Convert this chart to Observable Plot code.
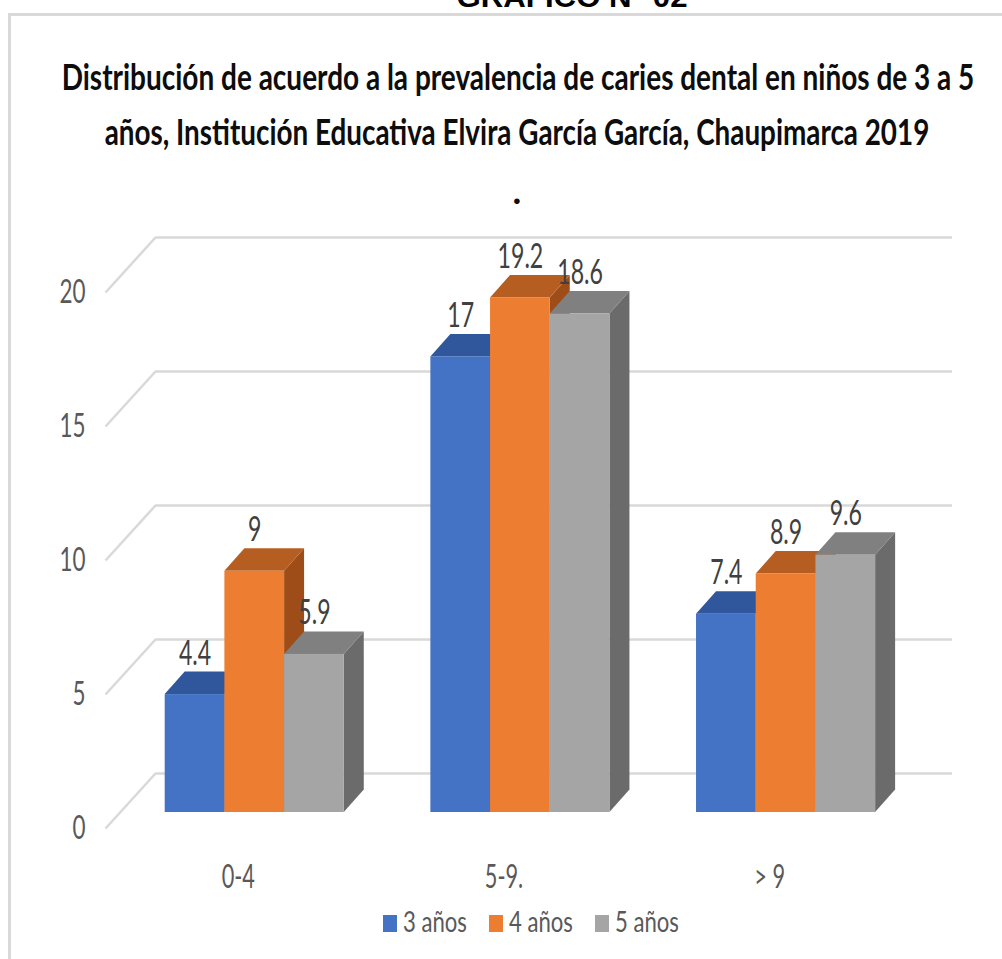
<!DOCTYPE html>
<html><head><meta charset="utf-8">
<script src="https://cdn.jsdelivr.net/npm/d3@7"></script>
<script src="https://cdn.jsdelivr.net/npm/@observablehq/plot@0.6"></script>
<style>
body{margin:0;background:#fff;}
#page{position:relative;width:1002px;height:959px;overflow:hidden;font-family:Lato,"Open Sans",sans-serif;}
#frame{position:absolute;left:8px;top:13px;width:1000px;height:960px;border-left:3px solid #d9d9d9;border-top:3px solid #d9d9d9;}
#header,#chart,#legend{position:absolute;left:0;}
#header{top:0}
#chart{top:160px}
#legend{top:895px}
svg{display:block}
</style></head><body><div id="page"><div id="frame"></div><div id="header"></div><div id="chart"></div><div id="legend"></div></div>
<script>
// ---- data ----
const categories = ["0-4", "5-9.", "> 9"];
const series = ["3 años", "4 años", "5 años"];
const values3 = [4.4, 17, 7.4];
const values4 = [9, 19.2, 8.9];
const values5 = [5.9, 18.6, 9.6];
const yTicks = [0, 5, 10, 15, 20];
const frontColors = ["#4472C4", "#ED7D31", "#A5A5A5"];
const topColors = ["#30579C", "#B65E22", "#808080"];
const sideColors = ["#2B4C88", "#9E4D19", "#6B6B6B"];
const graphLabel = "GRAFICO N° 02";
const titleLines = [
  "Distribución de acuerdo a la prevalencia de caries dental en niños de 3 a 5",
  "años, Institución Educativa Elvira García García, Chaupimarca 2019",
  "."
];

// ---- layout ----
const W = 1002, H = 740, mL = 105, mR = 100, mT = 132, mB = 72;
const pxX = (W - mL - mR) / categories.length;
const pxY = (H - mB - mT) / 20;
const barDX = 14, barDY = -16;           // bar position in depth (px)
const DX = 20 / pxX, DY = 22.5 / pxY;    // bar depth (data units)
const WX = 50 / pxX, WY = 55 / pxY;      // wall depth (data units)
const GROUP_START = 0.172, BAR_W = 0.2247;
const TEXT_SX = 0.68;
const font = "Lato, 'Open Sans', sans-serif";

const seriesValues = [values3, values4, values5];
const bars = categories.flatMap((c, i) => seriesValues.map((vals, j) => ({
  id: i * 3 + j, cat: c, s: series[j], v: vals[i],
  x1: i + GROUP_START + j * BAR_W, x2: i + GROUP_START + (j + 1) * BAR_W,
  front: frontColors[j], top: topColors[j], side: sideColors[j]
})));
const sidePts = bars.flatMap(b => [
  {id: b.id, x: b.x2, y1: 0, y2: b.v, c: b.side},
  {id: b.id, x: b.x2 + DX, y1: DY, y2: b.v + DY, c: b.side}
]);
const topPts = bars.flatMap(b => [
  {id: b.id, x: b.x1, y1: b.v, y2: b.v, c: b.top},
  {id: b.id, x: b.x1 + DX, y1: b.v, y2: b.v + DY, c: b.top},
  {id: b.id, x: b.x2, y1: b.v, y2: b.v + DY, c: b.top},
  {id: b.id, x: b.x2 + DX, y1: b.v + DY, y2: b.v + DY, c: b.top}
]);

const grid = "#d9d9d9";
const chart = Plot.plot({
  width: W, height: H, marginLeft: mL, marginRight: mR, marginTop: mT, marginBottom: mB,
  x: {type: "linear", domain: [0, categories.length], axis: null},
  y: {type: "linear", domain: [0, 20], axis: null},
  color: {type: "identity"},
  style: {fontFamily: font, background: "transparent", overflow: "visible"},
  marks: [
    Plot.ruleY(yTicks, {y: d => d, x1: 0, x2: categories.length, dx: 50, dy: -55, stroke: grid, strokeWidth: 2.5}),
    Plot.link(yTicks, {x1: 0, y1: d => d, x2: WX, y2: d => d + WY, stroke: grid, strokeWidth: 2.5}),
    Plot.areaY(sidePts, {x: "x", y1: "y1", y2: "y2", z: "id", fill: "c", dx: barDX, dy: barDY}),
    Plot.areaY(topPts, {x: "x", y1: "y1", y2: "y2", z: "id", fill: "c", dx: barDX, dy: barDY}),
    Plot.rect(bars, {x1: "x1", x2: "x2", y1: 0, y2: "v", fill: "front", dx: barDX, dy: barDY}),
    Plot.text(bars, {x: d => (d.x1 + d.x2) / 2, y: "v", text: d => String(d.v), dx: barDX, dy: barDY - 30,
      lineAnchor: "bottom", fontSize: 34, fill: "#404040"}),
    Plot.text(yTicks, {x: 0, y: d => d, text: d => String(d), textAnchor: "end", dx: -20, fontSize: 33, fill: "#595959"}),
    Plot.text(categories, {x: (d, i) => i + 0.5, y: 0, text: d => d, dy: 59, lineAnchor: "bottom", fontSize: 32, fill: "#595959"})
  ]
});
chart.querySelectorAll("text").forEach(t => {
  const tr = t.getAttribute("transform");
  if (tr) t.setAttribute("transform", tr + ` scale(${TEXT_SX},1)`);
});
document.getElementById("chart").appendChild(chart);

// ---- header ----
const hdr = d3.select("#header").append("svg").attr("width", W).attr("height", 230);
// fit a text horizontally to a target width by scaling it about its anchor
function fitText(sel, cx, y, target) {
  sel.attr("text-anchor", "middle").attr("transform", `translate(${cx},${y})`);
  const natural = sel.node().getComputedTextLength();
  if (target && natural > 0) sel.attr("transform", `translate(${cx},${y}) scale(${target / natural},1)`);
}
const g0 = hdr.append("text")
  .attr("font-family", "'Liberation Sans', Arial, sans-serif").attr("font-weight", "bold").attr("font-size", 30)
  .attr("fill", "#000").text(graphLabel);
fitText(g0, 572, 7, 231);
const titleSpecs = [{x: 518, y: 90, len: 913}, {x: 517, y: 145, len: 825}, {x: 517, y: 204, len: null}];
titleLines.forEach((line, k) => {
  const t = hdr.append("text").attr("font-family", font).attr("font-weight", "bold").attr("font-size", 37)
    .attr("fill", "#0d0d0d").text(line);
  fitText(t, titleSpecs[k].x, titleSpecs[k].y, titleSpecs[k].len);
});

// ---- legend ----
const leg = d3.select("#legend").append("svg").attr("width", W).attr("height", 60);
const legX = [383, 489, 595];
series.forEach((s, j) => {
  leg.append("rect").attr("x", legX[j]).attr("y", 20).attr("width", 14).attr("height", 17).attr("fill", frontColors[j]);
  const t = leg.append("text").attr("font-family", font).attr("font-size", 28).attr("fill", "#595959").text(s);
  t.attr("transform", `translate(${legX[j] + 20},37)`);
  const n = t.node().getComputedTextLength();
  if (n > 0) t.attr("transform", `translate(${legX[j] + 20},37) scale(${64 / n},1)`);
});
</script></body></html>
